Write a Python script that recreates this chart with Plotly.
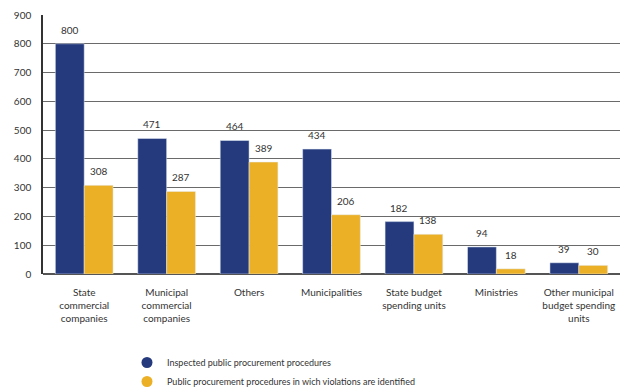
import plotly.graph_objects as go

categories = ["State<br>commercial<br>companies", "Municipal<br>commercial<br>companies", "Others",
              "Municipalities", "State budget<br>spending units", "Ministries",
              "Other municipal<br>budget spending<br>units"]
inspected = [800, 471, 464, 434, 182, 94, 39]
violations = [308, 287, 389, 206, 138, 18, 30]
series_names = ["Inspected public procurement procedures",
                "Public procurement procedures in wich violations are identified"]
tick_vals = [0, 100, 200, 300, 400, 500, 600, 700, 800, 900]

BLUE = "#253a7d"
YELLOW = "#ecb026"
FONT = "Lato"

fig = go.Figure()
fig.add_bar(x=categories, y=inspected, marker_color=BLUE, showlegend=False, name=series_names[0])
fig.add_bar(x=categories, y=violations, marker_color=YELLOW, showlegend=False, name=series_names[1])

# legend entries with circle markers
fig.add_scatter(x=[None], y=[None], mode="markers", marker=dict(color=BLUE, size=11, symbol="circle"),
                name=series_names[0])
fig.add_scatter(x=[None], y=[None], mode="markers", marker=dict(color=YELLOW, size=11, symbol="circle"),
                name=series_names[1])

for c, v in zip(categories, inspected):
    fig.add_annotation(x=c, y=v, text=str(v), showarrow=False, xshift=-14.5, yshift=14,
                       font=dict(size=10, color="#333", family=FONT))
for c, v in zip(categories, violations):
    fig.add_annotation(x=c, y=v, text=str(v), showarrow=False, xshift=14.5, yshift=14,
                       font=dict(size=10, color="#333", family=FONT))

fig.update_layout(
    width=620, height=388,
    margin=dict(l=43, r=0, t=15, b=114, autoexpand=False),
    paper_bgcolor="white", plot_bgcolor="white",
    barmode="group", bargap=0.3, bargroupgap=0,
    font=dict(family=FONT, size=10, color="#333"),
    legend=dict(xref="container", yref="container", x=127/620, y=1 - 348/388,
                xanchor="left", yanchor="top", font=dict(size=9, color="#333"),
                bgcolor="rgba(0,0,0,0)", tracegroupgap=0, itemwidth=30),
)
fig.update_yaxes(range=[0, 900], tickvals=tick_vals, showgrid=True, gridcolor="#6a6a6a", gridwidth=1,
                 showline=True, linecolor="#333", linewidth=1.5, zeroline=True, zerolinecolor="#555",
                 zerolinewidth=2, ticks="", ticklabelstandoff=8, tickfont=dict(size=10), automargin=False)
fig.update_xaxes(showline=False, ticks="", tickangle=0, tickfont=dict(size=10), ticklabelstandoff=11,
                 automargin=False)

fig.write_html("out.html")
